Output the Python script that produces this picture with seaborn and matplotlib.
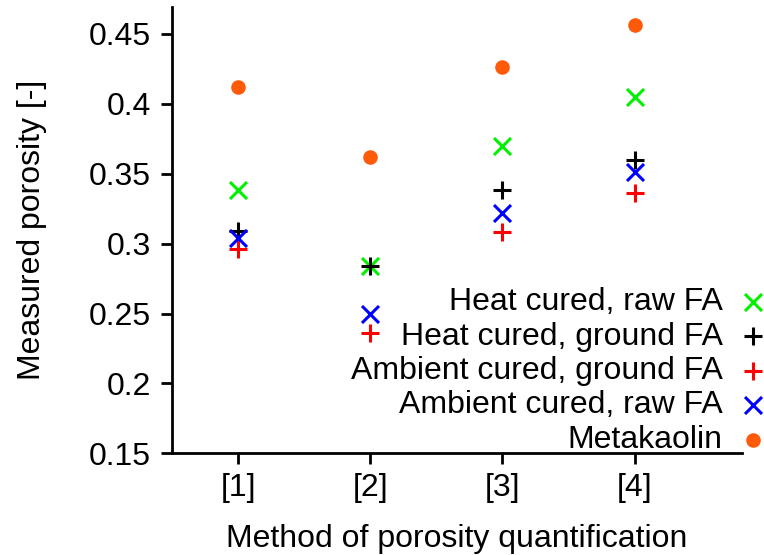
import numpy as np
import pandas as pd
import matplotlib
matplotlib.use("Agg")
import matplotlib.pyplot as plt
import seaborn as sns

methods = ["[1]", "[2]", "[3]", "[4]"]
series_names = [
    "Heat cured, raw FA",
    "Heat cured, ground FA",
    "Ambient cured, ground FA",
    "Ambient cured, raw FA",
    "Metakaolin",
]
heat_raw = [0.338, 0.284, 0.370, 0.405]
heat_ground = [0.309, 0.284, 0.338, 0.360]
ambient_ground = [0.296, 0.236, 0.308, 0.336]
ambient_raw = [0.304, 0.250, 0.322, 0.351]
metakaolin = [0.412, 0.362, 0.426, 0.456]

values = [heat_raw, heat_ground, ambient_ground, ambient_raw, metakaolin]
colors = ["#00f000", "#000000", "#ff0000", "#0000ff", "#ff5a0a"]
markers = ["x", "+", "+", "x", "o"]
sizes = [150, 170, 170, 150, 110]

sns.set_theme(style="ticks")
plt.rcParams["font.family"] = ["Liberation Sans", "DejaVu Sans"]
plt.rcParams["font.size"] = 23
for key in ["text.color", "axes.labelcolor", "xtick.color", "ytick.color",
            "axes.edgecolor"]:
    plt.rcParams[key] = "black"

rows = []
for name, vals in zip(series_names, values):
    for i, v in enumerate(vals):
        rows.append({"series": name, "pos": i + 1, "porosity": v})
df = pd.DataFrame(rows)

fig = plt.figure(figsize=(7.64, 5.55), dpi=100)
ax = fig.add_axes([0.225, 0.183, 0.746, 0.804])

for name, col, mk, sz in zip(series_names, colors, markers, sizes):
    sub = df[df["series"] == name]
    kw = dict(linewidths=2.2) if mk != "o" else dict(linewidth=0)
    sns.scatterplot(data=sub, x="pos", y="porosity", ax=ax, color=col,
                    marker=mk, s=sz, label=name, **kw)

ax.set_xlim(0.5, 4.81)
ax.set_ylim(0.15, 0.469)
ax.set_xticks(range(1, len(methods) + 1))
ax.set_xticklabels(methods)
ax.set_yticks([0.15, 0.2, 0.25, 0.3, 0.35, 0.4, 0.45])
ax.set_yticklabels(["0.15", "0.2", "0.25", "0.3", "0.35", "0.4", "0.45"])
ax.set_xlabel("Method of porosity quantification", fontsize=23, labelpad=15)
ax.set_ylabel("Measured porosity [-]", fontsize=23, labelpad=30)
ax.tick_params(axis="both", direction="out", length=8, width=2, labelsize=23)
ax.tick_params(axis="x", pad=6)
ax.tick_params(axis="y", pad=7)
for s in ["left", "bottom"]:
    ax.spines[s].set_linewidth(2)
sns.despine(ax=ax)

leg = ax.legend(loc="lower right", bbox_to_anchor=(1.07, -0.032), frameon=False,
                markerfirst=False, fontsize=23, handletextpad=0.45,
                labelspacing=0.14, borderaxespad=0.0, handlelength=1.0)

fig.savefig("out.png", dpi=100)
